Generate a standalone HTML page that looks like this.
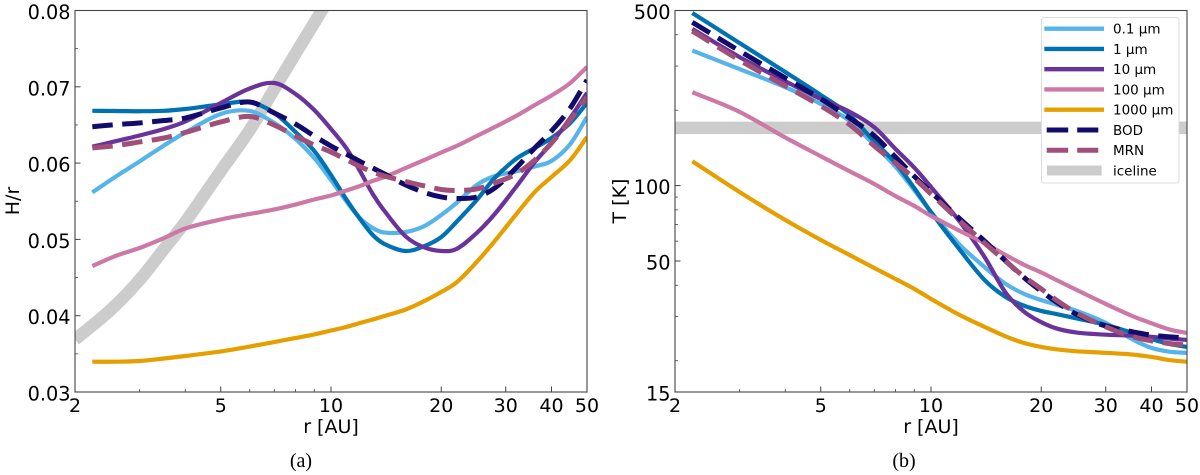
<!DOCTYPE html>
<html lang="en">
<head>
<meta charset="utf-8">
<title>H/r and temperature profiles</title>
<style>
html,body{margin:0;padding:0;background:#fff;}
body{width:1200px;height:475px;overflow:hidden;}
svg{display:block;}
text{font-family:"DejaVu Sans","Liberation Sans",sans-serif;fill:#000;}
.cap{font-family:"Liberation Serif",serif;}
</style>
</head>
<body>
<svg id="figure" xmlns="http://www.w3.org/2000/svg" width="1200" height="475" viewBox="0 0 1200 475">
  <defs>
    <clipPath id="clipA"><rect x="75" y="10.5" width="512" height="381.5"></rect></clipPath>
    <clipPath id="clipB"><rect x="675" y="10.5" width="512" height="381.5"></rect></clipPath>
  </defs>
  <g id="panelA"></g>
  <g id="panelB"></g>
  <g id="legend"></g>
  <text class="cap" x="301" y="467" font-size="20" text-anchor="middle">(a)</text>
  <text class="cap" x="904" y="467" font-size="20" text-anchor="middle">(b)</text>
</svg>
<script>
const radiiH = [2.23,2.6,3,3.5,4,5,6,7,8,9,10,11,12,13,14,16,18,20,22,25,28,32,36,40,45,50];
const h01 = [.05617,.05831,.06021,.06231,.06401,.06644,.06683,.06526,.06316,.06067,.05779,.05503,.0528,.05149,.0509,.05097,.05176,.0532,.05477,.05713,.05831,.0589,.05955,.06028,.0625,.06604];
const h1 = [.06685,.06683,.0668,.06685,.06709,.06768,.06801,.06657,.06408,.06159,.05844,.05529,.05267,.05058,.0494,.04848,.04913,.05031,.05228,.05516,.05805,.06054,.06198,.06329,.06526,.06788];
const h10 = [.06215,.0629,.06362,.06447,.06545,.06788,.06978,.0705,.06906,.06696,.06447,.06198,.05896,.05595,.05372,.05038,.04894,.04848,.04874,.05084,.05333,.05687,.06014,.06263,.06591,.06919];
const h100 = [.04651,.04789,.04887,.05018,.05143,.05261,.05333,.05392,.05457,.05523,.05575,.05641,.057,.05765,.05818,.05936,.06041,.06139,.06224,.06355,.06473,.06617,.06761,.06886,.0705,.0726];
const h1000 = [.03397,.03397,.03406,.03439,.03472,.03531,.03596,.03655,.03708,.03754,.03806,.03852,.03904,.0395,.03996,.04081,.04193,.04311,.04435,.04704,.04979,.05326,.05621,.05818,.06041,.06342];
const hBOD = [.06477,.06506,.06526,.06558,.06591,.06722,.06801,.06657,.06512,.06355,.06224,.06119,.06021,.05936,.05857,.05713,.05615,.05556,.05536,.05556,.05674,.05936,.06198,.06421,.06722,.07089];
const hMRN = [.06198,.06231,.06277,.06329,.06401,.06539,.06611,.06499,.06355,.06237,.06145,.06047,.05955,.05883,.05831,.05759,.057,.05654,.05641,.05661,.05739,.05857,.06041,.06263,.06565,.06866];
const iceRadiiH = [2,2.5,3,3.5,4,5,6,7,8,9,10];
const iceH = [.03688,.04075,.04468,.04874,.05228,.05896,.06434,.06971,.07436,.07836,.08203];

const radiiT = [2.23,3,4,5,6,7,8,9,10,12,14,16,18,20,22,25,30,35,40,45,50];
const t01 = [346,292,247,212,181,145,119,96,78.4,57.9,47.3,40.5,36.9,34.9,33.5,31.6,28.3,24.6,22.5,21.7,21.5];
const t1 = [488.6,371,284,230,191,150,123,97.8,78.4,55.3,42,35.9,33.1,31.6,30.7,29.5,27.8,26,24.4,23.3,22.7];
const t10 = [422,326,261,222,197,171,140,118,98.7,71.6,51.9,37.3,31.3,28.5,26.9,25.9,25.4,25.2,24.9,24.5,24.2];
const t100 = [236,197,155.6,131,114,101.5,90.8,83,75.7,65.9,59,52.8,48.2,45,42,38.3,33.7,30.4,28.2,26.6,25.8];
const t1000 = [125,94.3,72.9,60.7,52.8,46.9,42.4,38.7,35.3,30.4,27.3,25,23.5,22.7,22.2,21.8,21.5,21.2,20.7,20.1,19.8];
const tBOD = [449,345,269,222,186,158,130,109,94.3,73.6,60.1,50,42.8,37.9,34.3,30.6,27.5,26.2,25.3,24.9,24.6];
const tMRN = [414,317,250,208,175,144,123,107,92.6,72.2,59,49.8,43.2,38.7,34.9,31,27.3,25.1,24,23.4,23.1];
const iceRadiiT = [2,50];
const iceT = [170,170];

const seriesNames = ["0.1 µm","1 µm","10 µm","100 µm","1000 µm","BOD","MRN"];
const seriesKeys = ["0-1-um","1-um","10-um","100-um","1000-um","bod","mrn"];
const seriesColors = ["#56B4E9","#0072B2","#6A339A","#CC79A7","#E69F00","#130B6C","#A04F78"];
const iceName = "iceline";
const iceColor = "#CCCCCC";

const xMajorTicks = [2,5,10,20,30,40,50];
const xMinorTicks = [3,4,6,7,8,9];
const yTicksH = [0.03,0.04,0.05,0.06,0.07,0.08];
const yTickLabelsH = ["0.03","0.04","0.05","0.06","0.07","0.08"];
const yMinorH = [0.035,0.045,0.055,0.065,0.075];
const yTicksT = [15,50,100,500];
const yTickLabelsT = ["15","50","100","500"];
const yMinorT = [20,30,40,60,70,80,90,200,300,400];

const NS = "http://www.w3.org/2000/svg";
const TOP = 10.5, BOTTOM = 392, WIDTH = 512;

function make(parent, tag, attrs) {
  const el = document.createElementNS(NS, tag);
  for (const k in attrs) el.setAttribute(k, attrs[k]);
  parent.appendChild(el);
  return el;
}
function xScale(left) {
  return r => left + WIDTH * Math.log(r / 2) / Math.log(50 / 2);
}
function linY(v) {
  return BOTTOM - (BOTTOM - TOP) * (v - 0.03) / (0.08 - 0.03);
}
function logY(v) {
  return BOTTOM - (BOTTOM - TOP) * Math.log(v / 15) / Math.log(500 / 15);
}
function smoothPath(xs, ys) {
  let d = "M" + xs[0].toFixed(2) + " " + ys[0].toFixed(2);
  const n = xs.length;
  for (let i = 0; i < n - 1; i++) {
    const a = Math.max(i - 1, 0), b = Math.min(i + 2, n - 1);
    const h = xs[i + 1] - xs[i];
    const m0 = (ys[i + 1] - ys[a]) / (xs[i + 1] - xs[a]);
    const m1 = (ys[b] - ys[i]) / (xs[b] - xs[i]);
    const c1x = xs[i] + h / 3, c1y = ys[i] + m0 * h / 3;
    const c2x = xs[i + 1] - h / 3, c2y = ys[i + 1] - m1 * h / 3;
    d += "C" + c1x.toFixed(2) + " " + c1y.toFixed(2) + " " + c2x.toFixed(2) + " " + c2y.toFixed(2) + " " + xs[i + 1].toFixed(2) + " " + ys[i + 1].toFixed(2);
  }
  return d;
}
function drawPanel(group, left, clipId, yFn, radii, seriesList, iceR, iceV, yTicks, yLabels, yMinor, yTitle, yTitleX, suffix) {
  const x = xScale(left);
  const plot = make(group, "g", {"clip-path": "url(#" + clipId + ")"});
  
  

  const ice = make(plot, "path", {
    d: smoothPath(iceR.map(x), iceV.map(yFn)),
    fill: "none", stroke: iceColor, "stroke-width": 12.5
  });
  
  

  seriesList.forEach((vals, i) => {
    const dashed = i >= 5;
    const line = make(plot, "path", {
      d: smoothPath(radii.map(x), vals.map(yFn)),
      fill: "none", stroke: seriesColors[i],
      "stroke-width": dashed ? 5 : 4.2,
      "stroke-dasharray": dashed ? "20.5 9.5" : "none"
    });
    
    
  });

  const spine = make(group, "rect", {x: left, y: TOP, width: WIDTH, height: BOTTOM - TOP, fill: "none", stroke: "#444", "stroke-width": 1.1});
  
  

  xMajorTicks.forEach(t => {
    const tick = make(group, "line", {x1: x(t), x2: x(t), y1: BOTTOM, y2: BOTTOM - 5.5, stroke: "#444", "stroke-width": 1});
    
    
    const label = make(group, "text", {x: x(t), y: 412, "font-size": 19, "text-anchor": "middle"});
    label.textContent = String(t);
    
    
  });
  xMinorTicks.forEach(t => {
    const tick = make(group, "line", {x1: x(t), x2: x(t), y1: BOTTOM, y2: BOTTOM - 3, stroke: "#444", "stroke-width": 0.8});
    
    
  });
  yTicks.forEach((t, i) => {
    const tick = make(group, "line", {x1: left, x2: left + 5.5, y1: yFn(t), y2: yFn(t), stroke: "#444", "stroke-width": 1});
    
    
    const label = make(group, "text", {x: left - 4.5, y: yFn(t) + 8.5, "font-size": 19.3, "text-anchor": "end"});
    label.textContent = yLabels[i];
    
    
  });
  yMinor.forEach(t => {
    const tick = make(group, "line", {x1: left, x2: left + 3, y1: yFn(t), y2: yFn(t), stroke: "#444", "stroke-width": 0.8});
    
    
  });

  const xt = make(group, "text", {x: left + WIDTH / 2, y: 433, "font-size": 19, "text-anchor": "middle"});
  xt.textContent = "r [AU]";
  
  

  const yt = make(group, "text", {x: 0, y: 0, "font-size": 19, "text-anchor": "middle", transform: "translate(" + yTitleX + " 201) rotate(-90)"});
  yt.textContent = yTitle;
  
  
}

drawPanel(document.getElementById("panelA"), 75, "clipA", linY, radiiH,
  [h01, h1, h10, h100, h1000, hBOD, hMRN], iceRadiiH, iceH,
  yTicksH, yTickLabelsH, yMinorH, "H/r", 19, "a");
drawPanel(document.getElementById("panelB"), 675, "clipB", logY, radiiT,
  [t01, t1, t10, t100, t1000, tBOD, tMRN], iceRadiiT, iceT,
  yTicksT, yTickLabelsT, yMinorT, "T [K]", 626, "b");

(function drawLegend() {
  const g = document.getElementById("legend");
  const box = make(g, "rect", {x: 1041.5, y: 17.5, width: 137.5, height: 165.5, rx: 2.5, fill: "#fff", stroke: "#dcdcdc", "stroke-width": 1});
  
  
  const names = seriesNames.concat([iceName]);
  const colors = seriesColors.concat([iceColor]);
  names.forEach((name, i) => {
    const cy = 28.7 + i * 20.25;
    const dashed = i === 5 || i === 6;
    const isIce = i === 7;
    const handle = make(g, "line", {
      x1: isIce ? 1047 : (dashed ? 1046.7 : 1044.3),
      x2: isIce ? 1101.7 : (dashed ? 1098.3 : 1104),
      y1: cy, y2: cy, stroke: colors[i],
      "stroke-width": isIce ? 10 : (dashed ? 5 : 4.3),
      "stroke-dasharray": dashed ? "21.5 9" : "none"
    });
    
    
    const label = make(g, "text", {x: 1113, y: cy + 5, "font-size": 13.5});
    label.textContent = name;
    
    
  });
})();
</script>
</body>
</html>
